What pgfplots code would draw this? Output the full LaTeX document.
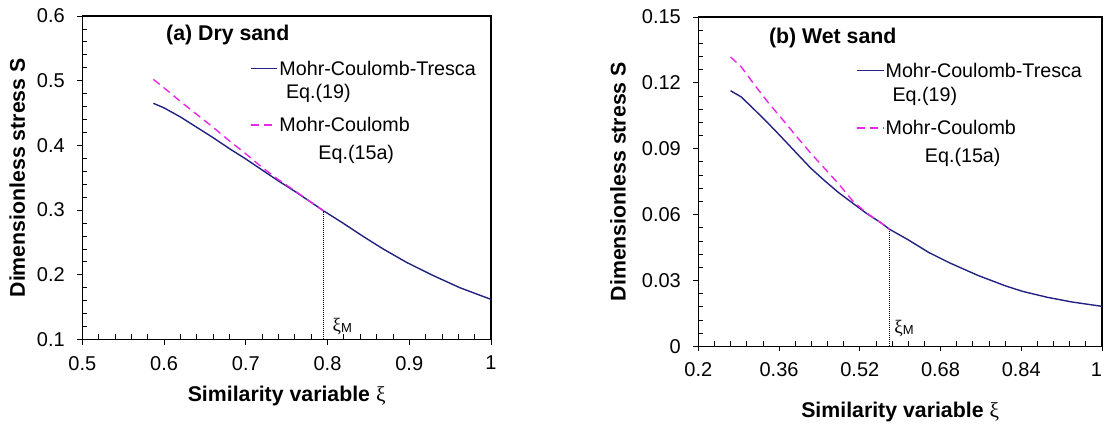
\documentclass[border=0pt]{standalone}
\usepackage{fontspec}
\setmainfont{Liberation Sans}
\newfontfamily\greekserif{Liberation Serif}
\usepackage{pgfplots}
\pgfplotsset{compat=1.18}
\definecolor{mctblue}{RGB}{34,34,130}
\definecolor{mcmag}{RGB}{232,40,232}
\newcommand{\tickfont}{\fontsize{20}{22}\selectfont}
\newcommand{\legfont}{\fontsize{19.7}{22}\selectfont}
\newcommand{\labfont}{\fontsize{21.3}{24}\selectfont\bfseries}
\newcommand{\xim}{{\fontsize{19}{20}\selectfont\greekserif ξ}\raisebox{-1pt}{\fontsize{13}{14}\selectfont M}}
\pgfplotsset{
  mystyle/.style={
    scale only axis,
    clip=false,
    axis line style={black, line width=1.1pt},
    tick align=inside,
    xtick pos=bottom, ytick pos=left,
    major tick length=-5pt,
    minor tick length=5pt,
    tick style={black, line width=0.8pt},
    minor x tick num=4, minor y tick num=4,
    scaled x ticks=false, scaled y ticks=false,
    ticklabel style={font=\tickfont, inner sep=0pt},
    xticklabel style={anchor=north, yshift=-16.5pt},
    yticklabel style={anchor=east, xshift=-17.3pt},
    xlabel={\labfont Similarity variable {\greekserif\mdseries ξ}},
    ylabel={\labfont Dimensionless stress S},
    ylabel style={anchor=center, inner sep=0pt},
    xlabel style={anchor=base, inner sep=0pt},
  },
  mct/.style={mctblue, line width=1.4pt},
  mc/.style={mcmag, line width=1.4pt, dash pattern=on 8pt off 5pt},
  vline/.style={black, line width=0.6pt, dash pattern=on 1pt off 1pt},
}
\begin{document}
\begin{tikzpicture}
\path[use as bounding box] (0,0) rectangle (1105pt,423pt);
% ---------------- (a) Dry sand ----------------
\begin{axis}[mystyle,
  at={(82.3pt,83.5pt)}, anchor=south west,
  width=408.7pt, height=323.5pt,
  xmin=0.5, xmax=1, ymin=0.1, ymax=0.6,
  xtick={0.5,0.6,0.7,0.8,0.9,1}, xticklabels={0.5,0.6,0.7,0.8,0.9,1},
  ytick={0.1,0.2,0.3,0.4,0.5,0.6}, yticklabels={0.1,0.2,0.3,0.4,0.5,0.6},
  xlabel style={at={(axis description cs:0.5,-0.1917)}},
  ylabel style={at={(axis description cs:-0.159,0.5)}},
]
\addplot[vline] coordinates {(0.795,0.1) (0.795,0.299)};
\addplot[mct] coordinates {
(0.587,0.465) (0.600,0.458) (0.620,0.444) (0.640,0.428) (0.660,0.412)
(0.680,0.395) (0.700,0.379) (0.720,0.362) (0.740,0.345) (0.760,0.329)
(0.780,0.312) (0.795,0.299) (0.820,0.279) (0.844,0.259) (0.868,0.240)
(0.897,0.219) (0.929,0.199) (0.962,0.180) (1.000,0.162)};
\addplot[mc] coordinates {
(0.587,0.502) (0.600,0.489) (0.620,0.468) (0.640,0.448) (0.660,0.428)
(0.680,0.407) (0.700,0.387) (0.720,0.366) (0.740,0.347) (0.760,0.330)
(0.780,0.312) (0.795,0.299)};
% legend samples
\addplot[mct] coordinates {(0.706,0.5192) (0.7378,0.5192)};
\addplot[mc] coordinates {(0.706,0.4315) (0.7378,0.4315)};
\node[anchor=base west, inner sep=0pt, font=\labfont] at (axis cs:0.6024,0.5618) {(a) Dry sand};
\node[anchor=base west, inner sep=0pt, font=\legfont] at (axis cs:0.741,0.5088) {Mohr-Coulomb-Tresca};
\node[anchor=base west, inner sep=0pt, font=\legfont] at (axis cs:0.749,0.4728) {Eq.(19)};
\node[anchor=base west, inner sep=0pt, font=\legfont] at (axis cs:0.741,0.4212) {Mohr-Coulomb};
\node[anchor=base west, inner sep=0pt, font=\legfont] at (axis cs:0.7887,0.3785) {Eq.(15a)};
\node[anchor=base west, inner sep=0pt] at (axis cs:0.8059,0.1131) {\xim};
\end{axis}
% ---------------- (b) Wet sand ----------------
\begin{axis}[mystyle,
  at={(698.3pt,76.7pt)}, anchor=south west,
  width=403.7pt, height=329.3pt,
  xmin=0.2, xmax=1, ymin=0, ymax=0.15,
  xtick={0.2,0.36,0.52,0.68,0.84,1}, xticklabels={0.2,0.36,0.52,0.68,0.84,\makebox[0pt][r]{1}},
  ytick={0,0.03,0.06,0.09,0.12,0.15}, yticklabels={0,0.03,0.06,0.09,0.12,0.15},
  xlabel style={at={(axis description cs:0.5,-0.2173)}},
  ylabel style={at={(axis description cs:-0.199,0.5)}},
]
\addplot[vline] coordinates {(0.579,0) (0.579,0.0533)};
\addplot[mct] coordinates {
(0.264,0.1164) (0.285,0.1136) (0.312,0.1076) (0.340,0.1012) (0.361,0.0962)
(0.395,0.0879) (0.423,0.0811) (0.450,0.0755) (0.478,0.0700) (0.506,0.0652)
(0.533,0.0606) (0.561,0.0564) (0.579,0.0533) (0.616,0.0485) (0.657,0.0427)
(0.699,0.0379) (0.754,0.0323) (0.809,0.0275) (0.843,0.0250) (0.892,0.0223)
(0.940,0.0202) (1.000,0.0182)};
\addplot[mc] coordinates {
(0.264,0.1318) (0.285,0.1273) (0.312,0.1189) (0.340,0.1106) (0.368,0.1030)
(0.395,0.0955) (0.423,0.0879) (0.450,0.0811) (0.478,0.0740) (0.506,0.0662)
(0.533,0.0608) (0.561,0.0564) (0.579,0.0533)};
% legend samples
\addplot[mct] coordinates {(0.5136,0.1255) (0.567,0.1255)};
\addplot[mc] coordinates {(0.5136,0.0995) (0.567,0.0995)};
\node[anchor=base west, inner sep=0pt, font=\labfont] at (axis cs:0.3398,0.1380) {(b) Wet sand};
\node[anchor=base west, inner sep=0pt, font=\legfont] at (axis cs:0.5708,0.1225) {Mohr-Coulomb-Tresca};
\node[anchor=base west, inner sep=0pt, font=\legfont] at (axis cs:0.5845,0.1117) {Eq.(19)};
\node[anchor=base west, inner sep=0pt, font=\legfont] at (axis cs:0.5708,0.0965) {Mohr-Coulomb};
\node[anchor=base west, inner sep=0pt, font=\legfont] at (axis cs:0.6487,0.0836) {Eq.(15a)};
\node[anchor=base west, inner sep=0pt] at (axis cs:0.588,0.0059) {\xim};
\end{axis}
\end{tikzpicture}
\end{document}
